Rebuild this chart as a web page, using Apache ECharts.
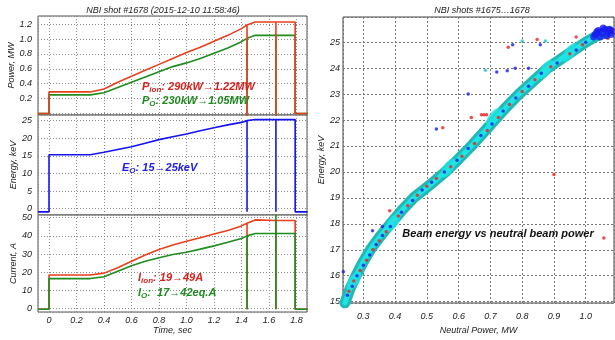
<!DOCTYPE html>
<html>
<head>
<meta charset="utf-8">
<script src="https://cdn.jsdelivr.net/npm/echarts@6/dist/echarts.min.js"></script>
<style>
  html, body { margin: 0; padding: 0; background: #fff; }
  #nbiChart { width: 615px; height: 340px; }
</style>
</head>
<body>
<div id="nbiChart"></div>
<script>
// time base for the shot #1678 traces (repeated times = vertical jumps / spikes)
const timeSec = [-0.08, 0, 0, 0.3, 0.4, 0.5, 0.6, 0.7, 0.8, 0.9, 1.0, 1.1, 1.2, 1.3, 1.4, 1.44, 1.44, 1.44, 1.5, 1.65, 1.65, 1.65, 1.65, 1.79, 1.79, 1.88];

const powerIon = [0, 0, 0.29, 0.29, 0.33, 0.42, 0.50, 0.58, 0.66, 0.74, 0.82, 0.89, 0.97, 1.05, 1.14, 1.19, -0.1, 1.19, 1.23, 1.23, 1.23, -0.1, 1.23, 1.23, 0, 0];
const powerNeutral = [0, 0, 0.25, 0.25, 0.28, 0.35, 0.42, 0.49, 0.56, 0.63, 0.68, 0.74, 0.81, 0.88, 0.965, 1.01, -0.1, 1.01, 1.05, 1.05, 1.05, -0.1, 1.05, 1.05, 0, 0];
const energyKeV = [-0.9, -0.9, 15.3, 15.3, 16.0, 16.8, 17.6, 18.6, 19.6, 20.4, 21.2, 22.1, 23.0, 23.8, 24.5, 25.0, -0.9, 25.0, 25.3, 25.3, 25.3, -0.9, 25.3, 25.3, -0.9, -0.9];
const currentIon = [-0.4, -0.4, 18.5, 18.5, 19.5, 22.5, 26, 29.5, 32.5, 35, 37, 39, 41, 43, 45.5, 47, -0.4, 47, 48.8, 48.5, 48.5, -0.4, 48.5, 48.5, -0.4, -0.4];
const currentNeutral = [-0.4, -0.4, 16.5, 16.5, 17.5, 20.5, 23.5, 26, 28, 29.8, 31, 32.7, 34.5, 36.5, 38.6, 40, -0.4, 40, 41.3, 41.3, 55, -0.4, 41.3, 41.3, -0.4, -0.4];

// shots #1675...1678: energy (keV) vs neutral power (MW)
const bandCenter = [[0.242, 14.95], [0.258, 15.5], [0.277, 16.0], [0.298, 16.5], [0.322, 17.0], [0.352, 17.5], [0.385, 18.0], [0.42, 18.5], [0.458, 19.0], [0.51, 19.5], [0.558, 20.0], [0.60, 20.5], [0.64, 21.0], [0.677, 21.5], [0.713, 22.0], [0.75, 22.5], [0.79, 23.0], [0.835, 23.5], [0.88, 24.0], [0.94, 24.5], [1.0, 25.0], [1.035, 25.25], [1.07, 25.4]];
const cyanBlobs = [[0.27, 15.8], [0.393, 18.05], [0.567, 20.15], [0.71, 22.1], [0.875, 23.95], [0.95, 24.6]];
const redAlong = [[0.255, 15.4], [0.27, 15.8], [0.29, 16.2], [0.31, 16.6], [0.33, 17.0], [0.35, 17.35], [0.372, 17.7], [0.41, 18.3], [0.44, 18.7], [0.47, 19.1], [0.50, 19.45], [0.53, 19.75], [0.575, 20.2], [0.61, 20.6], [0.65, 21.1], [0.69, 21.6], [0.725, 22.1], [0.76, 22.6], [0.80, 23.1], [0.84, 23.55], [0.89, 24.05], [0.95, 24.55], [0.99, 24.9], [1.085, 25.35], [1.07, 25.15], [1.085, 25.5]];
const blueAlong = [[0.25, 15.25], [0.265, 15.6], [0.28, 16.0], [0.30, 16.4], [0.32, 16.8], [0.34, 17.2], [0.36, 17.55], [0.385, 17.9], [0.42, 18.45], [0.455, 18.9], [0.485, 19.3], [0.515, 19.6], [0.555, 20.0], [0.595, 20.45], [0.63, 20.9], [0.67, 21.4], [0.705, 21.85], [0.74, 22.35], [0.78, 22.85], [0.82, 23.3], [0.86, 23.8], [0.91, 24.2], [0.97, 24.7], [1.0, 25.0]];
const blueTop = [[1.03, 25.3], [1.04, 25.45], [1.05, 25.35], [1.06, 25.5], [1.07, 25.4], [1.08, 25.3], [1.045, 25.2], [1.065, 25.25], [1.075, 25.5], [1.035, 25.4], [1.055, 25.55], [1.08, 25.45], [1.025, 25.2]];
const redOutliers = [[0.756, 24.8], [0.847, 25.1], [0.97, 25.2], [0.64, 22.1], [0.672, 22.2], [0.68, 22.2], [0.688, 22.2], [0.55, 21.7], [0.90, 19.9], [0.383, 18.5], [1.057, 17.45]];
const blueOutliers = [[0.72, 23.85], [0.753, 23.9], [0.778, 24.0], [0.82, 24.0], [0.77, 24.9], [0.857, 24.9], [0.63, 23.0], [0.53, 21.65], [0.329, 17.73], [0.36, 17.9], [0.237, 16.15]];
const cyanOutliers = [[0.684, 23.92], [0.80, 25.05], [0.873, 25.05]];

const FONT = '"Liberation Sans", Arial, sans-serif';
const RED = '#e8401c';
const GREEN = '#1f8c1f';
const BLUE = '#1414f0';

function pairs(values) {
  return timeSec.map((t, i) => [t, values[i]]);
}

function onStep(v, step) {
  return Math.abs(v / step - Math.round(v / step)) < 1e-6;
}

const labelStyle = { fontFamily: FONT, fontStyle: 'italic', fontSize: 9, color: '#222' };
const gridLine = { lineStyle: { color: '#8a8a8a', type: [1, 2] } };

function timeAxis(gridIndex, last) {
  return {
    type: 'value', gridIndex, min: -0.08, max: 1.876, splitNumber: 10,
    name: last ? 'Time, sec' : '', nameLocation: 'middle', nameGap: 13,
    nameTextStyle: labelStyle,
    axisLine: { show: false }, axisTick: { show: false },
    axisLabel: Object.assign({}, labelStyle, {
      show: last, margin: 4, showMinLabel: false, showMaxLabel: false,
      formatter: v => !onStep(v, 0.2) ? '' : (Math.abs(v) < 1e-9 ? '0' : v.toFixed(1))
    }),
    splitLine: gridLine
  };
}

function leftY(gridIndex, name, min, max, splitNumber, nameGap, fmt) {
  return {
    type: 'value', gridIndex, min, max, splitNumber,
    name, nameLocation: 'middle', nameGap, nameTextStyle: labelStyle,
    axisLine: { show: false }, axisTick: { show: false },
    axisLabel: Object.assign({}, labelStyle, { margin: 6, showMinLabel: false, showMaxLabel: false, formatter: fmt }),
    splitLine: gridLine
  };
}

function trace(name, values, color, xi) {
  return {
    name, type: 'line', xAxisIndex: xi, yAxisIndex: xi, data: pairs(values),
    showSymbol: false, clip: true, lineStyle: { color, width: 1.6 }, z: 3
  };
}

function dots(data, color, size, z) {
  return {
    type: 'scatter', xAxisIndex: 3, yAxisIndex: 3, data,
    symbol: 'circle', symbolSize: size, itemStyle: { color }, z
  };
}

const chart = echarts.init(document.getElementById('nbiChart'), null, { renderer: 'canvas' });

const txt = (x, y, text, extra) => ({
  type: 'text', x, y, z: 100,
  style: Object.assign({ text, fontFamily: FONT, fontStyle: 'italic', fontSize: 9, fill: '#222', align: 'center', verticalAlign: 'middle' }, extra)
});
const richNote = (x, y, text, color) => txt(x, y, text, {
  align: 'left', fontSize: 11, fontWeight: 'bold', fill: color,
  rich: { s: { fontSize: 8, fontWeight: 'bold', fontStyle: 'italic', fill: color, padding: [6, 0, 0, 0] } }
});

chart.setOption({
  animation: false,
  backgroundColor: '#fff',
  grid: [
    { left: 38, top: 16, width: 269, height: 99, show: true, borderColor: '#555', backgroundColor: '#fff' },
    { left: 38, top: 115, width: 269, height: 100, show: true, borderColor: '#555', backgroundColor: '#fff' },
    { left: 38, top: 215, width: 269, height: 97, show: true, borderColor: '#555', backgroundColor: '#fff' },
    { left: 343, top: 17, width: 271, height: 286, show: true, borderColor: '#444', backgroundColor: '#fff' }
  ],
  xAxis: [
    timeAxis(0, false),
    timeAxis(1, false),
    timeAxis(2, true),
    {
      type: 'value', gridIndex: 3, min: 0.236, max: 1.089, splitNumber: 8,
      name: 'Neutral Power, MW', nameLocation: 'middle', nameGap: 20, nameTextStyle: labelStyle,
      axisLine: { show: false }, axisTick: { show: false },
      axisLabel: Object.assign({}, labelStyle, { margin: 9, showMinLabel: false, showMaxLabel: false,
        formatter: v => onStep(v, 0.1) ? v.toFixed(1) : '' }),
      splitLine: { lineStyle: { color: '#777', type: [2, 2] } }
    }
  ],
  yAxis: [
    leftY(0, 'Power, MW', -0.02, 1.31, 6, 14, v => (onStep(v, 0.2) && v > 0.01) ? v.toFixed(1) : ''),
    leftY(1, 'Energy, keV', -1.8, 26.6, 5, 11, v => onStep(v, 5) ? String(v) : ''),
    leftY(2, 'Current, A', -1.9, 51.5, 5, 20, v => onStep(v, 10) ? String(v) : ''),
    {
      type: 'value', gridIndex: 3, min: 14.95, max: 25.97, splitNumber: 10,
      name: 'Energy, keV', nameLocation: 'middle', nameGap: 6, nameTextStyle: labelStyle,
      axisLine: { show: false }, axisTick: { show: false },
      axisLabel: Object.assign({}, labelStyle, { margin: 3, showMinLabel: false, showMaxLabel: false,
        formatter: v => onStep(v, 1) ? String(v) : '' }),
      splitLine: { lineStyle: { color: '#777', type: [2, 2] } }
    }
  ],
  series: [
    trace('P0', powerNeutral, GREEN, 0),
    trace('Pion', powerIon, RED, 0),
    trace('E0', energyKeV, BLUE, 1),
    trace('Iion', currentIon, RED, 2),
    trace('I0', currentNeutral, GREEN, 2),
    {
      type: 'line', xAxisIndex: 3, yAxisIndex: 3, data: bandCenter, showSymbol: false,
      lineStyle: { color: '#22b8b4', width: 11, cap: 'round', join: 'round' }, z: 2
    },
    {
      type: 'line', xAxisIndex: 3, yAxisIndex: 3, data: bandCenter, showSymbol: false,
      lineStyle: { color: '#1ee4e4', width: 5, cap: 'round', join: 'round' }, z: 3
    },
    {
      type: 'scatter', xAxisIndex: 3, yAxisIndex: 3, data: cyanBlobs,
      symbol: 'circle', symbolSize: [22, 10], symbolRotate: 55, itemStyle: { color: '#1ee4e4' }, z: 4
    },
    dots(redAlong, '#e82020', 3.5, 5),
    dots(blueAlong, '#1a1af0', 3.5, 5),
    dots(blueTop, '#1a1af0', 7, 5),
    dots(redOutliers, '#e82020', 3.5, 6),
    dots(blueOutliers, '#1a1af0', 3.5, 6),
    dots(cyanOutliers, '#1ec8c8', 3.5, 6)
  ],
  graphic: [
    txt(163, 10, 'NBI shot #1678 (2015-12-10 11:58:46)'),
    txt(482, 10, 'NBI shots #1675\u20261678'),
    richNote(142, 87, 'P{s|ion}: 290kW\u21921.22MW', '#d8201c'),
    richNote(142, 101, 'P{s|O}: 230kW\u21921.05MW', '#1f8a1f'),
    richNote(122, 168, 'E{s|O}: 15\u219225keV', '#2020e8'),
    richNote(138, 278, 'I{s|ion}: 19\u219249A', '#d8201c'),
    richNote(138, 293, 'I{s|O}:  17\u219242eq.A', '#1f8a1f'),
    txt(498, 234, 'Beam energy vs neutral beam power', { fontSize: 11, fontWeight: 'bold', fill: '#111' })
  ]
});

window.addEventListener('resize', () => chart.resize());
</script>
</body>
</html>
